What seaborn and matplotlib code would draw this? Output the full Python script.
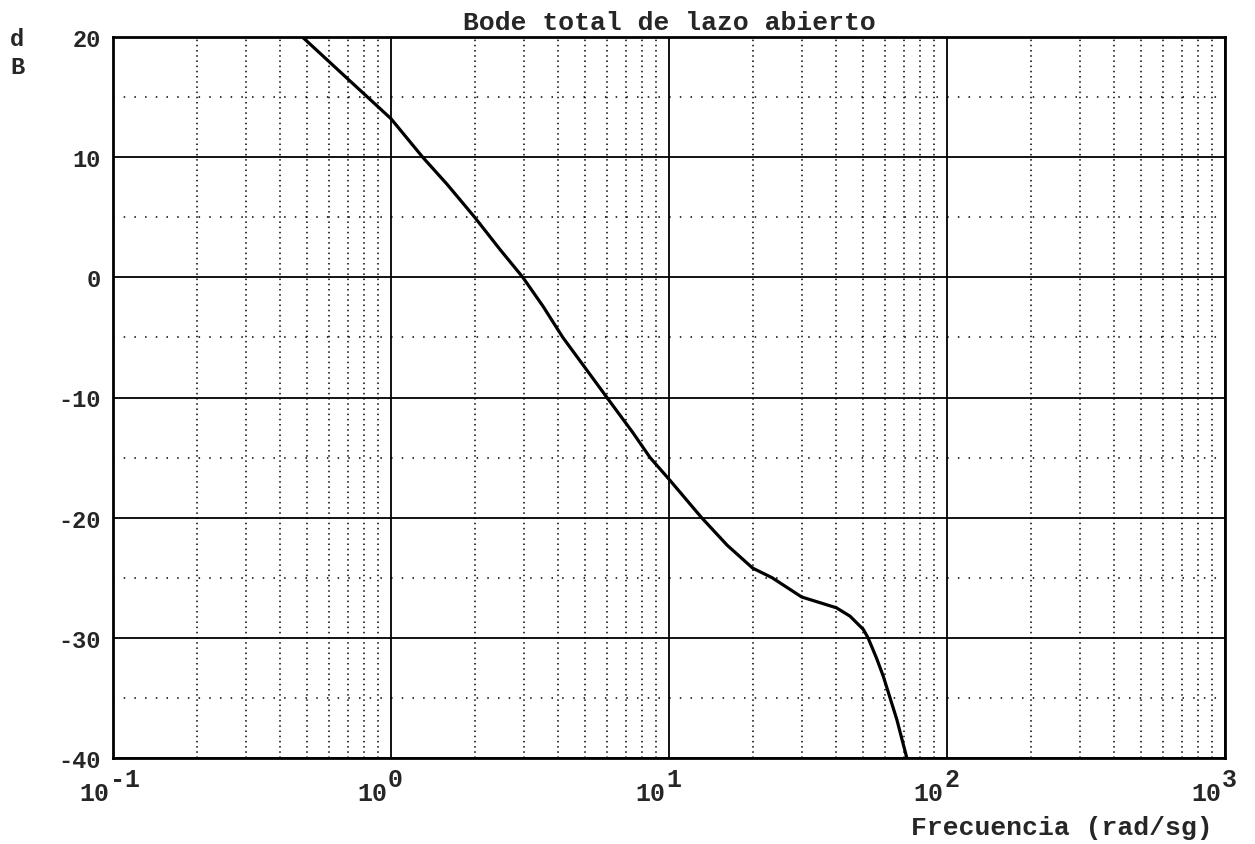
import matplotlib
matplotlib.use("Agg")
import matplotlib.pyplot as plt
from matplotlib.transforms import blended_transform_factory, offset_copy
from matplotlib.ticker import LogLocator, MultipleLocator, NullFormatter
import numpy as np
import pandas as pd
import seaborn as sns

# Open-loop magnitude response (rad/s, dB)
freq_rad_s = [0.48, 0.7, 1.0, 1.3, 1.59, 2.0, 2.47, 2.98, 3.52, 4.15, 5.98, 7.4, 8.55,
              10.0, 13.1, 16.2, 20.0, 23.5, 30.0, 40.0, 44.8, 50.0, 52.0, 55.8, 59.0,
              66.0, 71.7]
magnitude_db = [20.0, 16.5, 13.2, 10.0, 7.75, 5.0, 2.3, 0.0, -2.4, -5.0, -10.0, -12.9,
                -15.0, -16.8, -20.0, -22.3, -24.2, -25.0, -26.6, -27.5, -28.2, -29.3,
                -30.0, -31.7, -33.2, -36.8, -40.0]

decade_exponents = ["-1", "0", "1", "2", "3"]
decade_values = [0.1, 1.0, 10.0, 100.0, 1000.0]
y_major = [20, 10, 0, -10, -20, -30, -40]

title_text = "Bode total de lazo abierto"
xlabel_text = "Frecuencia (rad/sg)"

sns.set_style("white")
plt.rcParams["font.family"] = ["Liberation Mono", "DejaVu Sans Mono"]
plt.rcParams["font.weight"] = "bold"

df = pd.DataFrame({"w": freq_rad_s, "db": magnitude_db})

fig = plt.figure(figsize=(12.55, 8.45), dpi=100)
ax = fig.add_axes([113 / 1255, 1 - 759 / 845, (1225 - 113) / 1255, (759 - 38) / 845])

sns.lineplot(data=df, x="w", y="db", ax=ax, color="black", linewidth=2.3,
             sort=False, zorder=5)

ax.set_xscale("log")
ax.set_xlim(0.1, 1000)
ax.set_ylim(-40, 20)

# grid: solid decades / 10 dB, dotted in between
ax.xaxis.set_major_locator(LogLocator(base=10, numticks=10))
ax.xaxis.set_minor_locator(LogLocator(base=10, subs=np.arange(2, 10), numticks=100))
ax.xaxis.set_minor_formatter(NullFormatter())
ax.yaxis.set_major_locator(MultipleLocator(10))
ax.yaxis.set_minor_locator(MultipleLocator(5))

ax.grid(which="major", axis="both", color="black", linewidth=1.3, linestyle="-")
ax.grid(which="minor", axis="x", color="black", linewidth=1.1, linestyle=(0, (1, 2.4)))
ax.grid(which="minor", axis="y", color="black", linewidth=1.1, linestyle=(0, (1, 6)))

for s in ax.spines.values():
    s.set_color("black")
    s.set_linewidth(2.0)

ax.tick_params(axis="x", which="both", length=0, labelbottom=False)
ax.tick_params(axis="y", which="major", length=0, pad=9, labelsize=17)
ax.tick_params(axis="y", which="minor", direction="in", length=9, width=1.5, color="black")
ax.set_yticks(y_major)
ax.set_yticklabels([f"{v}" for v in y_major], fontweight="bold",
                   family=["Liberation Mono", "DejaVu Sans Mono"])
ax.set_xlabel("")
ax.set_ylabel("")

# decade labels as 10 with a raised exponent
trans = blended_transform_factory(ax.transData, ax.transAxes)
for val, ex in zip(decade_values, decade_exponents):
    ax.text(val, -0.049, "10", transform=offset_copy(trans, fig, x=-4, units="dots"),
            ha="right", va="center", fontsize=18, fontweight="bold", clip_on=False)
    ax.text(val, -0.029, ex, transform=offset_copy(trans, fig, x=-3, units="dots"),
            ha="left", va="center", fontsize=18, fontweight="bold", clip_on=False)

ax.set_title(title_text, fontsize=19, fontweight="bold", pad=6)
fig.text(1213 / 1255, 1 - 828 / 845, xlabel_text, ha="right", va="center",
         fontsize=19, fontweight="bold")
fig.text(17 / 1255, 1 - 40 / 845, "d", ha="center", va="center", fontsize=17, fontweight="bold")
fig.text(17 / 1255, 1 - 67 / 845, "B", ha="center", va="center", fontsize=17, fontweight="bold")

fig.savefig("out.png", dpi=100, facecolor="white")
